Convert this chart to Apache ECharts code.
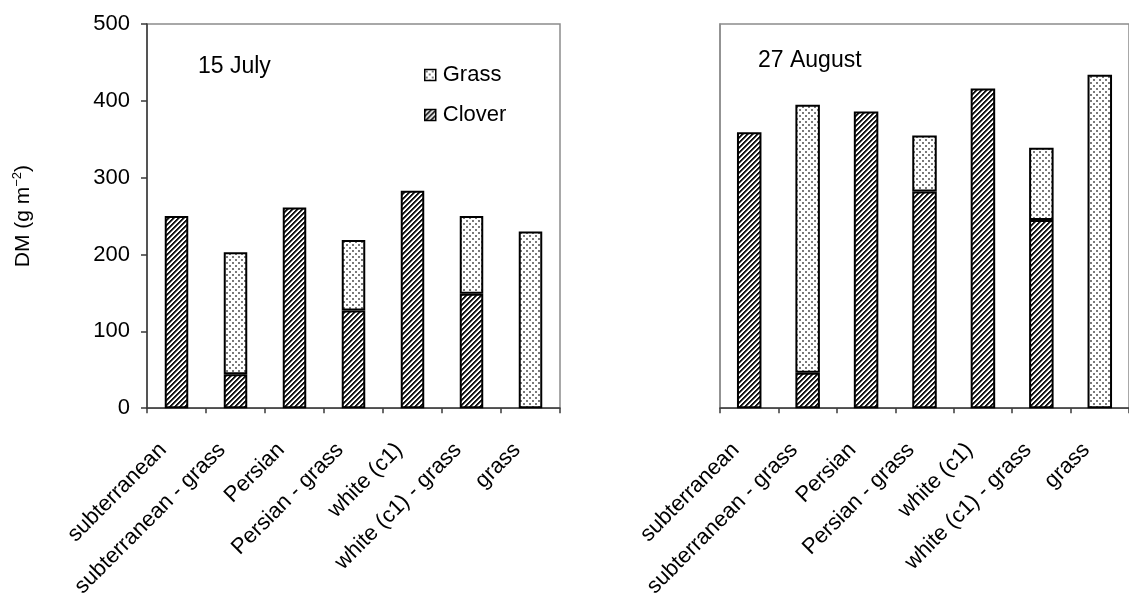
<!DOCTYPE html>
<html>
<head>
<meta charset="utf-8">
<script src="https://cdn.jsdelivr.net/npm/echarts@6/dist/echarts.min.js"></script>
<style>
  html, body { margin: 0; padding: 0; background: #fff; }
  #chart { width: 1129px; height: 600px; }
</style>
</head>
<body>
<div id="chart"></div>
<script>
// Treatments (shared by both harvest dates)
const categories = ['subterranean', 'subterranean - grass', 'Persian', 'Persian - grass',
                    'white (c1)', 'white (c1) - grass', 'grass'];
const yTicks = [0, 100, 200, 300, 400, 500];

// Dry matter, g m-2 — 15 July
const julyClover = [250, 44, 261, 127, 283, 149, 0];
const julyGrass  = [0, 159, 0, 92, 0, 101, 230];

// Dry matter, g m-2 — 27 August
const augClover = [359, 46, 386, 282, 416, 245, 0];
const augGrass  = [0, 349, 0, 73, 0, 94, 434];

const FONT = '"Liberation Sans", Arial, sans-serif';

// Diagonal hatch fill for clover
function hatchPattern() {
  const n = 5;
  const c = document.createElement('canvas');
  c.width = n; c.height = n;
  const ctx = c.getContext('2d');
  for (let x = 0; x < n; x++) {
    for (let y = 0; y < n; y++) {
      const k = (x + y) % n;
      ctx.fillStyle = k < 2 ? '#151515' : (k === 2 ? '#7a7a7a' : '#ffffff');
      ctx.fillRect(x, y, 1, 1);
    }
  }
  return { image: c, repeat: 'repeat' };
}

// Dotted fill for grass
function dotPattern() {
  const n = 6;
  const c = document.createElement('canvas');
  c.width = n; c.height = n;
  const ctx = c.getContext('2d');
  ctx.fillStyle = '#ffffff';
  ctx.fillRect(0, 0, n, n);
  ctx.fillStyle = '#7a7a7a';
  ctx.fillRect(1, 1, 2, 2);
  ctx.fillRect(4, 4, 2, 2);
  return { image: c, repeat: 'repeat' };
}

const cloverFill = hatchPattern();
const grassFill = dotPattern();

const grids = [
  { left: 147, top: 24, width: 413, height: 385 },
  { left: 720, top: 24, width: 420, height: 385 }
].map(g => Object.assign(g, { show: true, borderColor: '#8c8c8c', borderWidth: 1.5, backgroundColor: 'transparent' }));

function xAxis(gridIndex) {
  return {
    type: 'category', gridIndex, data: categories,
    axisLine: { lineStyle: { color: '#3a3a3a', width: 1.5 } },
    axisTick: { show: true, length: 5, lineStyle: { color: '#3a3a3a', width: 1.5 } },
    axisLabel: {
      interval: 0, rotate: 45, margin: 25, padding: [0, 19, 0, 0],
      fontFamily: FONT, fontSize: 22, color: '#000'
    }
  };
}

function yAxis(gridIndex, withLabels) {
  return {
    type: 'value', gridIndex, min: 0, max: 500, interval: 100,
    splitLine: { show: false },
    axisLine: { show: true, lineStyle: { color: withLabels ? '#3a3a3a' : '#8c8c8c', width: 1.5 } },
    axisTick: { show: withLabels, length: 6, lineStyle: { color: '#3a3a3a', width: 1.5 } },
    axisLabel: {
      show: withLabels, margin: 17, fontFamily: FONT, fontSize: 22, color: '#000',
      formatter: v => (yTicks.includes(v) ? String(v) : '')
    },
    name: withLabels ? '{a|DM (g m}{b|\u22122}{a|)}' : '',
    nameLocation: 'middle', nameRotate: 90, nameGap: 112,
    nameTextStyle: {
      rich: {
        a: { fontFamily: FONT, fontSize: 21, color: '#000' },
        b: { fontFamily: FONT, fontSize: 13, color: '#000', padding: [0, 0, 11, 0] }
      }
    }
  };
}

const barStyle = (fill) => ({ color: fill, borderColor: '#000', borderWidth: 2 });

// A zero component is left out of the stack so it draws no empty outline
const stackValues = (arr) => arr.map(v => (v === 0 ? null : v));

function stackSeries(idx, clover, grass, width) {
  return [
    { name: 'Clover', type: 'bar', stack: 'dm' + idx, xAxisIndex: idx, yAxisIndex: idx,
      barWidth: width, data: stackValues(clover), itemStyle: barStyle(cloverFill) },
    { name: 'Grass', type: 'bar', stack: 'dm' + idx, xAxisIndex: idx, yAxisIndex: idx,
      barWidth: width, data: stackValues(grass), itemStyle: barStyle(grassFill) }
  ];
}

const option = {
  animation: false,
  backgroundColor: '#fff',
  textStyle: { fontFamily: FONT },
  title: [
    { text: '15 July', left: 193, top: 50, textStyle: { fontFamily: FONT, fontSize: 23, fontWeight: 'normal', color: '#000' } },
    { text: '27 August', left: 753, top: 44, textStyle: { fontFamily: FONT, fontSize: 23, fontWeight: 'normal', color: '#000' } }
  ],
  legend: {
    data: ['Grass', 'Clover'], orient: 'vertical', left: 419, top: 59,
    icon: 'rect', itemWidth: 11, itemHeight: 11, itemGap: 18,
    itemStyle: { borderColor: '#000', borderWidth: 1.5 },
    textStyle: { fontFamily: FONT, fontSize: 22, color: '#000', lineHeight: 22, padding: [0, 0, 0, 2] }
  },
  grid: grids,
  xAxis: [xAxis(0), xAxis(1)],
  yAxis: [yAxis(0, true), yAxis(1, false)],
  series: [
    ...stackSeries(0, julyClover, julyGrass, 23.5),
    ...stackSeries(1, augClover, augGrass, 24.5)
  ]
};

const chart = echarts.init(document.getElementById('chart'), null, { renderer: 'canvas' });
chart.setOption(option);
</script>
</body>
</html>
